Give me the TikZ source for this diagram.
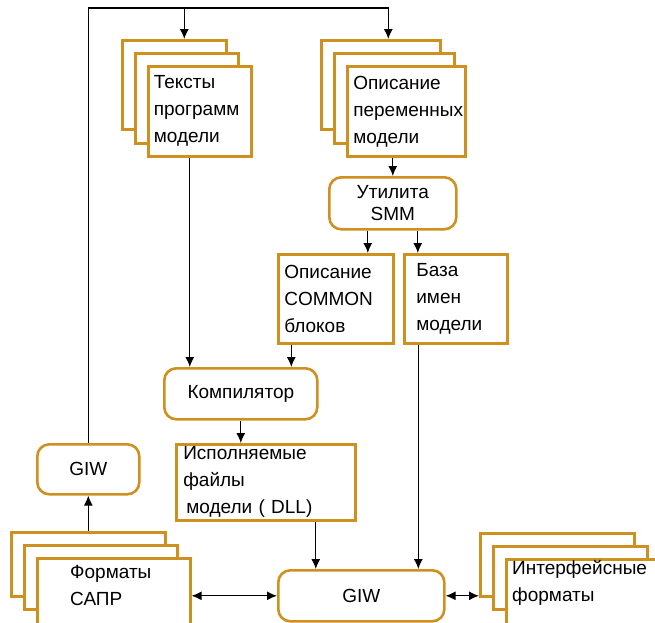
\documentclass[tikz,border=0pt]{standalone}
\usepackage{fontspec}
\setmainfont{Liberation Sans}
\usetikzlibrary{arrows.meta}

\definecolor{frame}{RGB}{206,144,30}

\tikzset{
  doc/.style = {draw=frame, line width=2.6pt, fill=white, rectangle, anchor=north west,
                inner sep=0pt, align=left, font=\fontsize{19}{27}\selectfont},
  tool/.style = {draw=frame, line width=2.6pt, fill=white, rounded corners=12pt, anchor=north west,
                inner sep=0pt, align=center, font=\fontsize{19}{22}\selectfont},
  txt/.style = {anchor=north west, inner sep=0pt, align=left, font=\fontsize{19}{27}\selectfont},
  flow/.style = {line width=1.2pt, ->},
  both/.style = {line width=1.2pt, <->},
}

\begin{document}
\begin{tikzpicture}[x=1pt, y=-1pt, >={Latex[length=10pt,width=9pt]}]
\useasboundingbox (0,0) rectangle (655,622);
\clip (0,0) rectangle (655,622);

% program texts
\node[doc, minimum width=104pt, minimum height=89pt] (src1) at (121,39) {};
\node[doc, minimum width=103pt, minimum height=90pt] (src2) at (134,52) {};
\node[doc, text width=92pt, minimum height=90pt, inner xsep=5.5pt] (src) at (147,65) {Тексты\\программ\\модели};

% variable descriptions
\node[doc, minimum width=119pt, minimum height=89pt] (var1) at (320,39) {};
\node[doc, minimum width=120pt, minimum height=90pt] (var2) at (333,52) {};
\node[doc, text width=106pt, minimum height=90pt, inner xsep=6pt] (var) at (346,65) {Описание\\переменных\\модели};

\node[tool, minimum width=127pt, minimum height=52pt] (smm) at (328,176) {Утилита\\SMM};

\node[doc, text width=103pt, minimum height=89pt, inner xsep=6pt] (common) at (277,253) {Описание\\COMMON\\блоков};
\node[doc, text width=79pt, minimum height=89pt, inner xsep=12pt] (names) at (403,253) {База\\имен\\модели};

\node[tool, minimum width=153pt, minimum height=51pt] (comp) at (163,367) {Компилятор};
\node[doc, text width=165pt, minimum height=76pt, inner xsep=7pt] (dll) at (175,443) {Исполняемые\\файлы\\\hspace{3pt}модели ( DLL)};

\node[tool, minimum width=102pt, minimum height=50pt] (giwcad) at (36,443) {GIW};
\node[tool, minimum width=166pt, minimum height=51pt] (giw) at (277,569) {GIW};

% CAD formats
\node[doc, minimum width=154pt, minimum height=64pt] (cad1) at (10,531) {};
\node[doc, minimum width=153pt, minimum height=64pt] (cad2) at (23,544) {};
\node[doc, minimum width=153pt, minimum height=75pt] (cad) at (36,557) {};
\node[txt] (cadtxt) at (70,565) {Форматы\\САПР};

% interface formats
\node[doc, minimum width=154pt, minimum height=63pt] (ifc1) at (479,532) {};
\node[doc, minimum width=154pt, minimum height=63pt] (ifc2) at (492,545) {};
\node[doc, minimum width=154pt, minimum height=75pt] (ifc) at (505,558) {};
\node[txt] (ifctxt) at (512,560) {Интерфейсные\\форматы};

% connectors
\coordinate (in1) at ([xshift=10pt]src1.north);
\coordinate (in2) at ([xshift=7.5pt]var1.north);
\draw[flow] (giwcad.north) |- ([yshift=31pt]in2) -- (in2);
\draw[flow] (in1 |- 0,8) -- (in1);
\draw[flow] (smm.north |- var.south) -- (smm.north);
\coordinate (s1) at ([xshift=-25pt]smm.south);
\coordinate (s2) at ([xshift=25pt]smm.south);
\draw[flow] (s1) -- (s1 |- common.north);
\draw[flow] (s2) -- (s2 |- names.north);
\coordinate (c1) at ([xshift=-10pt]src.south);
\coordinate (c2) at ([xshift=-44.5pt]common.south);
\draw[flow] (c1) -- (c1 |- comp.north);
\draw[flow] (c2) -- (c2 |- comp.north);
\draw[flow] (comp.south) -- (comp.south |- dll.north);
\coordinate (g1) at ([xshift=50pt]dll.south);
\coordinate (g2) at ([xshift=-37.5pt]names.south);
\draw[flow] (g1) -- (g1 |- giw.north);
\draw[flow] (g2) -- (g2 |- giw.north);
\draw[flow] (cad1.north) -- (giwcad.south);
\draw[both] (giw.west -| cad.east) -- (giw.west);
\draw[both] (giw.east) -- (giw.east -| ifc1.west);
\end{tikzpicture}
\end{document}
